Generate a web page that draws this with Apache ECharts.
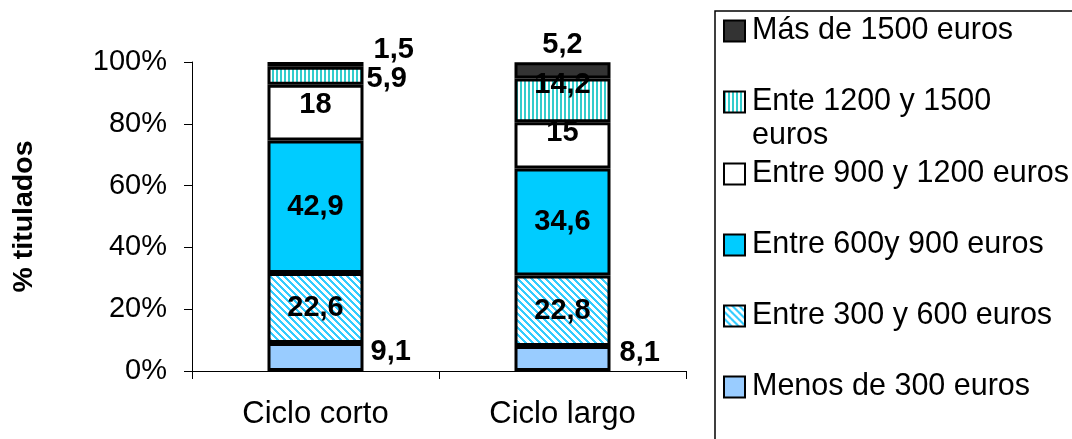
<!DOCTYPE html>
<html>
<head>
<meta charset="utf-8">
<script src="https://cdn.jsdelivr.net/npm/echarts@6/dist/echarts.min.js"></script>
<style>html,body{margin:0;padding:0;background:#fff}#c{width:1072px;height:439px}</style>
</head>
<body>
<div id="c"></div>
<script>
const categories = ['Ciclo corto', 'Ciclo largo'];
const seriesNames = ['Menos de 300 euros', 'Entre 300 y 600 euros', 'Entre 600y 900 euros', 'Entre 900 y 1200 euros', 'Ente 1200 y 1500 euros', 'Más de 1500 euros'];
const menos300 = [9.1, 8.1];
const entre300_600 = [22.6, 22.8];
const entre600_900 = [42.9, 34.6];
const entre900_1200 = [18, 15];
const entre1200_1500 = [5.9, 14.2];
const mas1500 = [1.5, 5.2];
const yMin = 0, yMax = 100, yStep = 20;
const legendOrder = ['Más de 1500 euros', 'Ente 1200 y 1500 euros', 'Entre 900 y 1200 euros', 'Entre 600y 900 euros', 'Entre 300 y 600 euros', 'Menos de 300 euros'];

const FONT = "'Liberation Sans', Arial, sans-serif";

function makePattern(fn, size) {
  const c = document.createElement('canvas');
  c.width = size; c.height = size;
  const ctx = c.getContext('2d');
  const img = ctx.createImageData(size, size);
  for (let y = 0; y < size; y++) for (let x = 0; x < size; x++) {
    const col = fn(x, y);
    const i = (y * size + x) * 4;
    img.data[i] = col[0]; img.data[i+1] = col[1]; img.data[i+2] = col[2]; img.data[i+3] = 255;
  }
  ctx.putImageData(img, 0, 0);
  return { image: c, repeat: 'repeat' };
}
const WHITE = [255,255,255];
const diagPattern = makePattern((x, y) => (((x - y) % 7 + 7) % 7) < 3 ? [51,204,255] : WHITE, 7);
const vertPattern = makePattern((x, y) => (x % 4) < 2 ? [51,204,204] : WHITE, 4);

const fills = ['#99CCFF', diagPattern, '#00CCFF', '#FFFFFF', vertPattern, '#333333'];
const values = [menos300, entre300_600, entre600_900, entre900_1200, entre1200_1500, mas1500];

// label placement per series, per category
const labelCfg = [
  [{position: 'right', distance: 7, offset: [0, -5]}, {position: 'right', distance: 9, offset: [0, -5]}],
  [{position: 'inside'}, {position: 'inside'}],
  [{position: 'inside'}, {position: 'inside'}],
  [{position: 'inside', offset: [0, -8]}, {position: 'inside', offset: [0, -12]}],
  [{position: 'right', distance: 3, offset: [0, 3]}, {position: 'inside', offset: [0, -15]}],
  [{position: 'right', distance: 10, offset: [0, -14]}, {position: 'top', distance: 3}]
];

const fmt = v => String(v).replace('.', ',');

const series = seriesNames.map((name, si) => ({
  name: name,
  type: 'bar',
  stack: 'total',
  barWidth: 96,
  itemStyle: { color: fills[si], borderColor: '#000', borderWidth: 3 },
  emphasis: { disabled: true },
  data: values[si].map((v, ci) => ({
    value: v,
    label: Object.assign({
      show: true,
      formatter: fmt(v),
      color: '#000',
      fontFamily: FONT,
      fontWeight: 'bold',
      fontSize: 29
    }, labelCfg[si][ci])
  }))
}));

const legendCenters = [31, 102, 174, 245, 316, 387];
const legends = legendOrder.map((name, i) => {
  const wrap = name === 'Ente 1200 y 1500 euros';
  return {
    data: [{ name: name, icon: 'rect' }],
    left: 723,
    top: legendCenters[i] - (wrap ? 51 : 17),
    padding: 0,
    orient: 'vertical',
    itemWidth: 21,
    itemHeight: 21,
    selectedMode: false,
    formatter: wrap ? '{e| }\n{a|Ente 1200 y 1500}\n{a|euros}' : '{name}',
    textStyle: {
      fontFamily: FONT,
      fontSize: 30.5,
      color: '#000',
      lineHeight: 34,
      padding: [0, 0, 0, 2],
      rich: {
        e: { fontFamily: FONT, fontSize: 30.5, lineHeight: 34, height: 34 },
        a: { fontFamily: FONT, fontSize: 30.5, lineHeight: 34, color: '#000' }
      }
    }
  };
});

const chart = echarts.init(document.getElementById('c'), null, { renderer: 'canvas' });
chart.setOption({
  animation: false,
  backgroundColor: '#fff',
  grid: { left: 192, right: 386, top: 62, bottom: 68 },
  legend: legends,
  graphic: [{
    type: 'rect',
    shape: { x: 715, y: 11, width: 500, height: 600 },
    style: { fill: 'none', stroke: '#000', lineWidth: 1.5 },
    silent: true
  }],
  xAxis: {
    type: 'category',
    data: categories,
    axisLine: { lineStyle: { color: '#000', width: 1 } },
    axisTick: { show: true, length: 8, lineStyle: { color: '#000' } },
    axisLabel: { color: '#000', fontFamily: FONT, fontSize: 31, margin: 28 }
  },
  yAxis: {
    type: 'value',
    min: yMin, max: yMax, interval: yStep,
    name: '% titulados',
    nameLocation: 'middle',
    nameRotate: 90,
    nameGap: 153,
    nameTextStyle: { color: '#000', fontFamily: FONT, fontSize: 28.5, fontWeight: 'bold' },
    axisLine: { show: true, lineStyle: { color: '#000', width: 1 } },
    axisTick: { show: true, length: 8, lineStyle: { color: '#000' } },
    splitLine: { show: false },
    axisLabel: { color: '#000', fontFamily: FONT, fontSize: 29, margin: 25, formatter: '{value}%' }
  },
  series: series
});
</script>
</body>
</html>
